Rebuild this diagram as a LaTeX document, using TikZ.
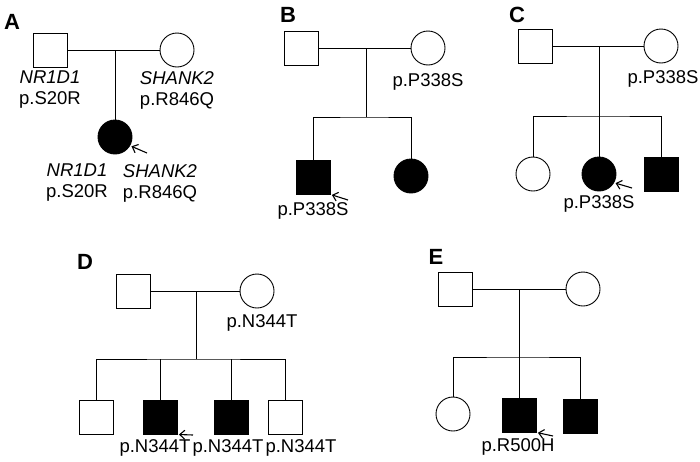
\documentclass[tikz,border=0pt]{standalone}
\usepackage{fontspec}
\setsansfont{Liberation Sans}
\usetikzlibrary{arrows.meta}

\begin{document}
\begin{tikzpicture}[-,>={Straight Barb[length=5pt,width=9pt]},x=1pt,y=-1pt,line width=0.9pt,
      male/.style={rectangle,draw,minimum size=34pt,inner sep=0pt},
      female/.style={circle,draw,minimum size=34pt,inner sep=0pt},
      affected/.style={fill=black},
      proband/.style={->,line width=1.1pt,shorten >=1.5pt},
      mut/.style={font=\sffamily\fontsize{18.5}{21}\selectfont,inner sep=0pt,align=center},
      panel/.style={font=\sffamily\bfseries\fontsize{22}{24}\selectfont,inner sep=0pt}]

    \useasboundingbox (0,0) rectangle (700,461);

    % A
    \node[panel] (labA) at (12,22) {A};
    \node[male] (a1) at (50,50) {};
    \node[female] (a2) at (177,50) {};
    \coordinate (a12) at (115,50);
    \node[female,affected] (a3) at (115,137) {};
    \draw (a1) -- (a2);
    \draw (a12) -- (a3);
    \coordinate (a3arr) at (147,153);
    \draw[proband] (a3arr) -- (a3.-30);
    \node[mut] (a1m) at (50,90) {\textit{NR1D1}\\p.S20R};
    \node[mut] (a2m) at (177,90) {\textit{SHANK2}\\p.R846Q};
    \node[mut] (a3m1) at (77,183) {\textit{NR1D1}\\p.S20R};
    \node[mut] (a3m2) at (160,183) {\textit{SHANK2}\\p.R846Q};

    % B
    \node[panel] (labB) at (288,15) {B};
    \node[male] (b1) at (301,48) {};
    \node[female] (b2) at (428,48) {};
    \coordinate (b12) at (366,48);
    \coordinate (bsib) at (366,117);
    \node[male,affected] (b3) at (313,177) {};
    \node[female,affected] (b4) at (411,176) {};
    \draw (b1) -- (b2);
    \draw (b12) -- (bsib);
    \draw (b3) |- (bsib) -| (b4);
    \coordinate (b3arr) at (348,200);
    \draw[proband] (b3arr) -- (b3.south east);
    \node[mut] (b2m) at (428,82) {p.P338S};
    \node[mut] (b3m) at (313,211) {p.P338S};

    % C
    \node[panel] (labC) at (517,15) {C};
    \node[male] (c1) at (535,46) {};
    \node[female] (c2) at (661,46) {};
    \coordinate (c12) at (599,46);
    \coordinate (csib) at (599,116);
    \node[female] (c3) at (533,174) {};
    \node[female,affected] (c4) at (599,174) {};
    \node[male,affected] (c5) at (661,174) {};
    \draw (c1) -- (c2);
    \draw (c12) -- (c4);
    \draw (c3) |- (csib) -| (c5);
    \coordinate (c4arr) at (632,188);
    \draw[proband] (c4arr) -- (c4.-30);
    \node[mut] (c2m) at (663,79) {p.P338S};
    \node[mut] (c4m) at (599,204) {p.P338S};

    % D
    \node[panel] (labD) at (85,262) {D};
    \node[male] (d1) at (133,291) {};
    \node[female] (d2) at (257,291) {};
    \coordinate (d12) at (196,291);
    \coordinate (dsib) at (196,359);
    \node[male] (d3) at (96,417) {};
    \node[male,affected] (d4) at (160,417) {};
    \node[male,affected] (d5) at (231,417) {};
    \node[male] (d6) at (285,417) {};
    \draw (d1) -- (d2);
    \draw (d12) -- (dsib);
    \draw (d3) |- (dsib) -| (d6);
    \draw (d4) -- (d4 |- dsib);
    \draw (d5) -- (d5 |- dsib);
    \coordinate (d4arr) at (193,435);
    \draw[proband] (d4arr) -- (d4.south east);
    \node[mut] (d2m) at (262,323) {p.N344T};
    \node[mut] (d4m) at (155,448) {p.N344T};
    \node[mut] (d5m) at (228,448) {p.N344T};
    \node[mut] (d6m) at (301,448) {p.N344T};

    % E
    \node[panel] (labE) at (436,257) {E};
    \node[male] (e1) at (455,289) {};
    \node[female] (e2) at (583,289) {};
    \coordinate (e12) at (519,289);
    \coordinate (esib) at (519,357);
    \node[female] (e3) at (453,414) {};
    \node[male,affected] (e4) at (519,415) {};
    \node[male,affected] (e5) at (580,416) {};
    \draw (e1) -- (e2);
    \draw (e12) -- (e4);
    \draw (e3) |- (esib) -| (e5);
    \coordinate (e4arr) at (553,436);
    \draw[proband] (e4arr) -- (e4.south east);
    \node[mut] (e4m) at (518,447) {p.R500H};
    \end{tikzpicture}
\end{document}
